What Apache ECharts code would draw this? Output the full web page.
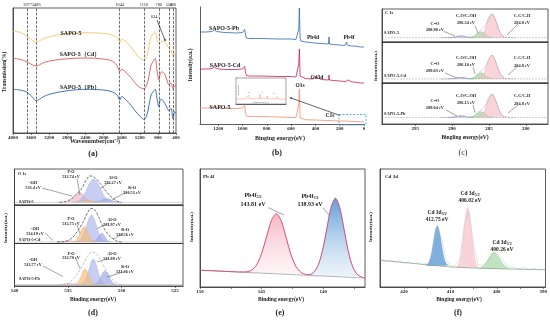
<!DOCTYPE html>
<html><head><meta charset="utf-8">
<script src="https://cdn.jsdelivr.net/npm/echarts@6/dist/echarts.min.js"></script>
<style>html,body{margin:0;padding:0;background:#fff}#c{width:550px;height:323px}</style>
</head><body><div id="c"></div>
<script>
// ---------- (a) FTIR ----------
const aWave=[4000,3850,3700,3600,3486,3350,3200,2800,2400,2000,1800,1700,1644,1600,1500,1400,1300,1200,1110,1050,1000,950,900,860,820,780,740,700,650,600,556,510,466,430,400];
const aS5=[102,100.7,97,93.7,91,93.7,96.3,99.3,100.3,99.7,98,95.7,90.3,93.7,91.3,86.3,80.3,74.7,73,76.3,86.3,96.3,99.5,101.5,93.7,89.7,91,91.7,90.7,88,84.7,83,76.3,79.7,83];
const aCd=[74.7,73.7,71.3,68.7,67,69.7,72,74.3,75,74,71.7,67,61.3,63.7,60.3,55.7,49.7,45.7,44.3,47,56.3,68,72,74.7,63,53,60.3,61,59,53,48,50.3,44.3,47,48];
const aPb=[43.7,43,41,37.3,32.3,35.7,38.7,42.3,43.7,43,41,38,33,36.3,33,28,22,17,13.7,17,27,38,41.5,43.7,34.7,26.3,33.7,33,29.7,25.7,22.3,24.7,14.3,21.3,19.7];
const aMarks=[3677,3486,1644,1110,780,556,466];
const aTicks=[4000,3600,3200,2800,2400,2000,1600,1200,800,400];
// ---------- (b) XPS survey ----------
const bPb=[[1350,92],[1300,92],[1250,92.5],[1232,94],[1215,92.5],[1150,91.5],[1050,91],[1000,91.5],[990,93],[982,94.5],[976,90],[968,86],[950,85.5],[850,85.5],[700,85],[600,85],[560,84.5],[545,86],[537,95],[532,116],[529,100],[526,86],[520,83],[480,82],[440,81.5],[432,83],[424,82],[410,81],[350,80.5],[292,80],[288,87],[284,80],[250,79.5],[200,79],[196,81],[192,79],[160,78.5],[146,79],[142,82],[139,79],[137,81],[133,78.5],[105,78],[80,78],[76,79],[72,77.5],[30,77],[0,77]];
const bCd=[[1350,55],[1300,55],[1250,55.5],[1232,57],[1215,55.5],[1150,54.5],[1050,54.5],[1000,55],[990,56.5],[982,57.5],[976,52],[968,48.5],[950,48],[850,48],[700,47.5],[600,47.5],[560,47],[545,49],[537,60],[532,75],[529,60],[526,48],[520,46],[480,45.5],[420,45],[412,47.5],[405,48],[400,46],[350,44.5],[292,44],[288,49],[284,44],[250,43.5],[200,43],[196,45],[192,43],[150,42.5],[142,44],[138,42.5],[133,44],[128,42.2],[100,42],[80,42],[76,43],[72,41.5],[30,41],[0,41]];
const bS5=[[1350,16],[1300,16],[1250,16.5],[1232,17.5],[1215,16.5],[1150,15.5],[1050,15.5],[1000,16],[990,17],[982,18.5],[976,12],[968,8],[950,7.5],[850,7.5],[700,7],[600,6.5],[560,6.5],[545,8],[537,20],[532,35],[529,20],[526,6],[520,4.5],[480,4.2],[400,4],[300,3.5],[292,3.5],[288,5.5],[284,3.5],[200,3],[196,4],[192,3],[150,3],[140,4],[136,3],[100,2.5],[0,2]];
const bInset=[[200,1.9],[160,2],[153,2.1],[150,3.5],[147,2.1],[120,2],[106,2.1],[104,3.7],[102,2.1],[92,2.2],[90,2.8],[88,2.1],[77,2.1],[75,3.1],[73,2],[40,2],[37,2.8],[34,1.9],[0,1.8]];
const bTicks=[1200,1000,800,600,400,200,0];
// ---------- (c) C1s ----------
const cPinkX=[286.55,286.2,285.9,285.55,285.25,284.9,284.6,284.3,283.95,283.65,283.3,283.0,282.65];
const cGreenX=[287.75,287.45,287.2,286.9,286.65,286.4,286.1,285.8,285.55,285.3,285.0,284.75,284.45];
const cBlueX=[290.6,290.3,290.0,289.7,289.4,289.1,288.8,288.5,288.2,287.9,287.6,287.3,287.0];
const cPink1=[13.8,16.2,22.7,36.4,56.7,76.5,85,76.5,56.7,36.4,22.7,16.2,13.8];
const cPink2=[10.6,12.6,17.8,28.9,45.2,61.2,68,61.2,45.2,28.9,17.8,12.6,10.6];
const cPink3=[16.6,18.5,23.7,34.5,50.6,66.3,73,66.3,50.6,34.5,23.7,18.5,16.6];
const cGreen1=[13.2,13.8,15.4,18.9,23.9,28.9,31,28.9,23.9,18.9,15.4,13.8,13.2];
const cGreen2=[10.2,10.7,12.0,14.9,19.1,23.2,25,23.2,19.1,14.9,12.0,10.7,10.2];
const cGreen3=[16.2,16.6,17.9,20.6,24.5,28.3,30,28.3,24.5,20.6,17.9,16.6,16.2];
const cBlue1=[13.1,13.3,13.8,14.95,16.6,18.3,19,18.3,16.6,14.95,13.8,13.3,13.1];
const cBlue2=[10.0,10.2,10.5,11.3,12.4,13.5,14,13.5,12.4,11.3,10.5,10.2,10.0];
const cBlue3=[16.0,16.2,16.5,17.3,18.4,19.5,20,19.5,18.4,17.3,16.5,16.2,16.0];
const cEnvX=[291.5,290,289.4,288.8,288.2,287.6,287.2,286.9,286.4,286.1,285.8,285.55,285.25,284.9,284.6,284.3,283.95,283.65,283.3,282.65,281.5];
const cEnv1=[13,13.8,16.6,19,16.6,14.3,15.6,18.9,30.5,36,41.9,48.5,62.1,78.2,85.5,76.5,56.7,36.4,22.7,13.8,13];
const cEnv2=[10,10.5,12.4,14,12.4,10.4,12.2,14.9,24.5,29.1,33.6,38.8,49.7,62.6,68.4,61.2,45.2,28.9,17.8,10.6,10];
const cEnv3=[16,16.5,18.4,20,18.4,16.4,18.0,20.6,29.6,34,38.6,43.9,54.8,67.6,73.4,66.3,50.6,34.5,23.7,16.6,16];
const cBase=[13,10,16];
const cTicks=[295,290,285,280];
// ---------- (d) O1s ----------
const dOH1X=[535.4,535.15,534.9,534.65,534.4,534.15,533.9,533.65,533.4,533.15,532.9,532.65,532.4];
const dOH1=[7.8,8.7,11.1,16.1,23.6,30.9,34,30.9,23.6,16.1,11.1,8.7,7.8];
const dPO1X=[534.15,533.98,533.8,533.63,533.45,533.28,533.1,532.93,532.75,532.58,532.4,532.23,532.05];
const dPO1=[7.55,7.7,8.2,9.1,10.5,11.9,12.5,11.9,10.5,9.1,8.2,7.7,7.55];
const dAl1X=[534.4,534.1,533.8,533.5,533.2,532.9,532.6,532.3,532.0,531.7,531.4,531.1,530.8];
const dAl1=[8.2,10.3,16.2,28.5,46.7,64.4,72,64.4,46.7,28.5,16.2,10.3,8.2];
const dSi1X=[532.75,532.53,532.3,532.08,531.85,531.63,531.4,531.18,530.95,530.73,530.5,530.28,530.05];
const dSi1=[7.6,8.0,8.9,10.9,13.9,16.8,18,16.8,13.9,10.9,8.9,8.0,7.6];
const dEnv1=[[535.8,7.5],[535.3,9.2],[534.8,15],[534.35,25.8],[533.7,46.4],[533.3,69.4],[532.94,81],[532.5,76],[532.0,60.3],[531.54,41.7],[531.07,25.8],[530.45,11.1],[529.98,7.5]];
const dOH2X=[536.1,535.9,535.7,535.5,535.3,535.1,534.9,534.7,534.5,534.3,534.1,533.9,533.7];
const dOH2=[4.03,4.13,4.4,5.0,5.8,6.6,7,6.6,5.8,5.0,4.4,4.13,4.03];
const dPO2X=[534.55,534.38,534.2,534.03,533.85,533.68,533.5,533.33,533.15,532.98,532.8,532.63,532.45];
const dPO2=[4.4,5.7,9.3,16.9,28.0,38.9,43.6,38.9,28.0,16.9,9.3,5.7,4.4];
const dAl2X=[534.15,533.93,533.7,533.48,533.25,533.03,532.8,532.58,532.35,532.13,531.9,531.68,531.45];
const dAl2=[4.8,7.1,13.5,26.8,46.5,65.7,74,65.7,46.5,26.8,13.5,7.1,4.8];
const dSi2X=[532.75,532.6,532.45,532.3,532.15,532.0,531.85,531.7,531.55,531.4,531.25,531.1,530.95];
const dSi2=[4.25,5.0,7.0,11.3,17.7,23.8,26.5,23.8,17.7,11.3,7.0,5.0,4.25];
const dEnv2=[[536,4],[535.4,4.5],[534.65,13.5],[534.04,35],[533.57,56.6],[533.2,78.4],[532.85,91.4],[532.48,87],[532.07,65.5],[531.64,39.5],[531.14,20.3],[530.45,6.5],[530,4]];
const dOH3X=[536.0,535.8,535.6,535.4,535.2,535.0,534.8,534.6,534.4,534.2,534.0,533.8,533.6];
const dOH3=[3.53,3.61,3.84,4.31,5.02,5.71,6.0,5.71,5.02,4.31,3.84,3.61,3.53];
const dPO3X=[534.39,534.23,534.06,533.9,533.73,533.57,533.4,533.24,533.07,532.91,532.74,532.58,532.41];
const dPO3=[3.9,5.1,8.4,15.4,25.7,35.7,40,35.7,25.7,15.4,8.4,5.1,3.9];
const dAl3X=[533.78,533.59,533.4,533.21,533.02,532.83,532.64,532.45,532.26,532.07,531.88,531.69,531.5];
const dAl3=[4.2,6.1,11.6,23.0,39.9,56.4,63.5,56.4,39.9,23.0,11.6,6.1,4.2];
const dSi3X=[532.65,532.47,532.28,532.1,531.91,531.73,531.54,531.36,531.17,530.99,530.8,530.62,530.43];
const dSi3=[3.85,4.9,7.8,13.8,22.8,31.5,35.3,31.5,22.8,13.8,7.8,4.9,3.85];
const dEnv3=[[535.5,3.5],[534.97,6.4],[534.19,25.9],[533.63,49.4],[533.2,68.9],[532.8,79.3],[532.38,76.9],[531.94,61.2],[531.38,33.6],[530.77,14.1],[530.14,4],[529.8,3.5]];
const dBase=[7.5,4,3.5];
const dTicks=[540,535,530,525];
// ---------- (e) Pb 4f ----------
const ePinkX=[146.2,145.8,145.4,145.0,144.6,144.2,143.8,143.4,143.0,142.6,142.2,141.8,141.4];
const ePink=[12.9,14.3,18.8,28.3,42.5,56.3,62.1,55.9,41.7,27.1,17.3,12.4,10.6];
const eBlueX=[141.1,140.75,140.4,140.05,139.7,139.35,139.0,138.65,138.3,137.95,137.6,137.25,136.9];
const eBlue=[10.5,12.6,18.5,30.9,49.5,67.6,75.2,67.2,48.8,29.9,17.1,10.9,8.5];
const eBase=[[150,14.2],[145,11.75],[140,9.3],[136.6,7.6]];
const eLead=[[150,14.2],[149,13.8],[148,13.3],[147,12.8],[146.6,12.7]];
const eTail=[[136.6,7.7]];
const eTicks=[150,145,140];
const eMinor=[150,147.5,145,142.5,140,137.5];
// ---------- (f) Cd 3d ----------
const fBlueX=[415.25,414.85,414.45,414.05,413.65,413.25,412.85,412.45,412.05,411.65,411.25,410.85,410.45];
const fBlue=[18.4,19.5,22.6,29.1,38.6,48.0,52,48.0,38.6,29.1,22.6,19.5,18.4];
const fPinkX=[408.7,408.3,407.9,407.5,407.1,406.7,406.3,405.9,405.5,405.1,404.7,404.3,403.9];
const fPink=[17.0,18.6,23.3,33.0,47.4,61.4,67.4,61.4,47.4,33.0,23.3,18.6,17.0];
const fGreenX=[404.35,403.73,403.1,402.48,401.85,401.23,400.6,399.98,399.35,398.73,398.1,397.48,396.85];
const fGreen=[15.65,16.1,17.4,20.05,24.0,27.85,29.5,27.85,24.0,20.05,17.4,16.1,15.65];
const fBase=[[425.2,22.6],[420,20.8],[415,18.8],[410,17.0],[405,16.1],[400,15.5],[395,15.0],[389.5,14.6]];
const fRaw=[[425,23.5],[424,21.5],[423,23],[422,21],[421,22.5],[420,20],[419,21.5],[418,19.5],[417,20.5],[416,19],[415,20.5],[414,25],[413,50],[412,42],[411,24],[410,17.5],[409,18],[408,24],[407,52],[406,64],[405,36],[404,19],[403,18.5],[402,21],[401,28],[400,30],[399,25],[398,19],[397,17],[396,16],[395,15.5],[394,16.5],[393,14.5],[392,16],[391,14.5],[390,16]];
const fTicks=[420,410,400,390];
const fMinor=[420,415,410,405,400,395,390];

// ---------- helpers ----------
const FF='"Liberation Serif", "Times New Roman", serif';
const zip=(xs,ys)=>xs.map((x,i)=>[x,ys[i]]);
function gridBox(l,t,w,h,show){return {left:l,top:t,width:w,height:h,show:show!==false,borderColor:'#333',borderWidth:0.8,backgroundColor:'transparent',containLabel:false,outerBoundsMode:'none'};}
function xAx(g,min,max,o){o=o||{};return {type:'value',gridIndex:g,min:min,max:max,inverse:true,splitLine:{show:false},
  axisLine:{show:true,onZero:false,lineStyle:{color:'#333',width:0.8}},
  axisTick:{show:!!o.ticks,customValues:o.ticks,length:2,lineStyle:{color:'#333',width:0.6}},
  axisLabel:{show:!!o.labels,customValues:o.labels,formatter:v=>String(v),fontSize:5,fontFamily:FF,fontWeight:'bold',color:'#222',margin:2,hideOverlap:false}};}
function yAx(g,min,max,show){return {type:'value',gridIndex:g,min:min,max:max,splitLine:{show:false},
  axisLine:{show:show!==false,onZero:false,lineStyle:{color:'#333',width:0.8}},axisTick:{show:false},axisLabel:{show:false}};}
function ln(i,data,color,o){o=o||{};const s={type:'line',xAxisIndex:i,yAxisIndex:i,data:data,showSymbol:false,symbol:'none',
  smooth:(o.smooth===undefined?0.3:o.smooth),silent:true,z:o.z||2,lineStyle:{color:color,width:(o.w===undefined?0.8:o.w),type:o.dash||'solid',opacity:o.op||1}};
  if(o.fill){s.areaStyle={color:o.fill,origin:(o.origin===undefined?'start':o.origin),opacity:1};}
  if(o.markLine)s.markLine=o.markLine; return s;}
function T(x,y,text,size,o){o=o||{};return {type:'text',x:x,y:y,rotation:o.rot||0,silent:true,z:100,
  style:{text:text,fontFamily:FF,fontSize:size,fontWeight:o.w||'bold',fill:o.c||'#222',align:o.a||'center',verticalAlign:o.v||'middle',rich:o.rich}};}
function L(x1,y1,x2,y2,o){o=o||{};return {type:'line',silent:true,z:99,shape:{x1:x1,y1:y1,x2:x2,y2:y2},style:{stroke:o.c||'#666',lineWidth:o.w||0.6,lineDash:o.dash||null}};}
function arrow(x1,y1,x2,y2,c){const a=Math.atan2(y2-y1,x2-x1),s=2.4,w=1.2;const bx=x2-s*Math.cos(a),by=y2-s*Math.sin(a);
  return [L(x1,y1,bx,by,{c:c,w:0.7}),{type:'polygon',silent:true,z:99,shape:{points:[[x2,y2],[bx+w*Math.sin(a),by-w*Math.cos(a)],[bx-w*Math.sin(a),by+w*Math.cos(a)]]},style:{fill:c}}];}
const R90=Math.PI/2;
const subRich={n:{fontFamily:FF,fontSize:6,fontWeight:'bold',fill:'#222',lineHeight:7},s:{fontFamily:FF,fontSize:4,fontWeight:'bold',fill:'#222',verticalAlign:'bottom',lineHeight:5}};
const subRichF={n:{fontFamily:FF,fontSize:5.5,fontWeight:'bold',fill:'#222',lineHeight:7},s:{fontFamily:FF,fontSize:3.8,fontWeight:'bold',fill:'#222',verticalAlign:'bottom',lineHeight:5}};

const cPinkF='rgba(246,190,200,0.65)',cPinkL='#eba5b2',cGreenF='rgba(150,210,150,0.65)',cGreenL='#86c686',cBlueF='rgba(170,178,230,0.65)',cBlueL='#9aa2dd',cOrF='rgba(250,190,120,0.7)',cOrL='#f0b070';

const grids=[
 gridBox(13,8,163,125),
 gridBox(200,7,164,117,false),
 {left:236,top:78,width:50,height:26,show:true,borderColor:'#666',borderWidth:0.6,backgroundColor:'#fff',z:5,outerBoundsMode:'none'},
 gridBox(382,9,166,33),gridBox(382,42,166,41),gridBox(382,83,166,41),
 gridBox(14.5,169,168.5,36),gridBox(14.5,205,168.5,38.5),gridBox(14.5,243.5,168.5,42.5),
 gridBox(200,169,165,118),
 gridBox(380,169,165.5,118)
];
const xAxes=[
 xAx(0,400,4000,{ticks:aTicks,labels:aTicks}),
 xAx(1,0,1350,{ticks:bTicks,labels:bTicks}),
 xAx(2,0,200,{}),
 xAx(3,277,299.5,{}),xAx(4,277,299.5,{}),xAx(5,277,299.5,{ticks:cTicks,labels:cTicks}),
 xAx(6,524.25,540,{}),xAx(7,524.25,540,{}),xAx(8,524.25,540,{ticks:dTicks,labels:dTicks}),
 xAx(9,136.6,150,{ticks:eMinor,labels:eTicks}),
 xAx(10,389.5,425.2,{ticks:fMinor,labels:fTicks})
];
const yAxes=[yAx(0,0,125),yAx(1,0,117),yAx(2,0,10),yAx(3,0,100),yAx(4,0,100),yAx(5,0,100),yAx(6,0,100),yAx(7,0,100),yAx(8,0,100),yAx(9,0,100),yAx(10,0,100)];

const series=[];
series.push(ln(0,zip(aWave,aS5),'#f6c56b',{smooth:0.35,w:0.9,markLine:{symbol:['none','none'],silent:true,animation:false,
  lineStyle:{type:'dashed',color:'#333',width:0.7},
  label:{show:true,position:'end',distance:1,formatter:p=>String(p.value),fontSize:4.3,fontFamily:FF,color:'#222'},
  data:aMarks.map(v=>({xAxis:v}))}}));
series.push(ln(0,zip(aWave,aCd),'#dc5753',{smooth:0.35,w:0.9}));
series.push(ln(0,zip(aWave,aPb),'#2b68b1',{smooth:0.35,w:0.9}));
series.push(ln(1,bPb,'#2f64b4',{smooth:false,w:0.8}));
series.push(ln(1,bCd,'#c81e5a',{smooth:false,w:0.8}));
series.push(ln(1,bS5,'#f78a6c',{smooth:false,w:0.8}));
series.push(ln(2,bInset,'#f78a6c',{smooth:false,w:0.5,z:10}));
const cP=[cPink1,cPink2,cPink3],cG=[cGreen1,cGreen2,cGreen3],cB=[cBlue1,cBlue2,cBlue3],cE=[cEnv1,cEnv2,cEnv3];
for(let k=0;k<3;k++){const gi=3+k;
 series.push(ln(gi,[[299.5,cBase[k]],[277,cBase[k]]],'#999',{smooth:false,w:0.5,dash:'dashed'}));
 series.push(ln(gi,zip(cBlueX,cB[k]),cBlueL,{fill:cBlueF,origin:cBase[k],w:0.5}));
 series.push(ln(gi,zip(cGreenX,cG[k]),cGreenL,{fill:cGreenF,origin:cBase[k],w:0.5}));
 series.push(ln(gi,zip(cPinkX,cP[k]),cPinkL,{fill:cPinkF,origin:cBase[k],w:0.5}));
 series.push(ln(gi,zip(cEnvX,cE[k]),'#888',{w:0.5,dash:'dashed',z:3}));
}
const dSets=[[dOH1X,dOH1,dPO1X,dPO1,dAl1X,dAl1,dSi1X,dSi1,dEnv1],[dOH2X,dOH2,dPO2X,dPO2,dAl2X,dAl2,dSi2X,dSi2,dEnv2],[dOH3X,dOH3,dPO3X,dPO3,dAl3X,dAl3,dSi3X,dSi3,dEnv3]];
for(let k=0;k<3;k++){const gi=6+k,s=dSets[k],b=dBase[k];
 series.push(ln(gi,[[540,b],[524.25,b]],'#aaa',{smooth:false,w:0.5}));
 series.push(ln(gi,zip(s[0],s[1]),'#eeaab8',{fill:'rgba(244,185,198,0.7)',origin:b,w:0.5}));
 series.push(ln(gi,zip(s[4],s[5]),'#a8b0e4',{fill:'rgba(175,185,235,0.7)',origin:b,w:0.5}));
 series.push(ln(gi,zip(s[6],s[7]),'#a0a8e0',{fill:'rgba(165,175,230,0.75)',origin:b,w:0.5}));
 series.push(ln(gi,zip(s[2],s[3]),cOrL,{fill:cOrF,origin:b,w:0.5}));
 series.push(ln(gi,s[8],k===2?'#aaa':'#333',{w:0.7,dash:'dashed',z:3}));
}
series.push(ln(9,eBase,'#888',{smooth:false,w:0.6}));
series.push(ln(9,zip(ePinkX,ePink),'#f2b8c4',{fill:{type:'linear',x:0,y:0,x2:0,y2:1,colorStops:[{offset:0,color:'rgba(240,160,175,0.75)'},{offset:1,color:'rgba(252,228,233,0.4)'}]},origin:11.2,w:0.5}));
series.push(ln(9,zip(eBlueX,eBlue),'#7fb0df',{fill:{type:'linear',x:0,y:0,x2:0,y2:1,colorStops:[{offset:0,color:'rgba(70,140,210,0.85)'},{offset:1,color:'rgba(215,232,246,0.45)'}]},origin:8.8,w:0.5}));
series.push(ln(9,eLead.concat(zip(ePinkX,ePink),zip(eBlueX,eBlue),eTail),'#d8436f',{w:0.9,z:3}));
series.push(ln(10,fRaw,'#b8b8b8',{smooth:false,w:0.4}));
series.push(ln(10,fBase,'#7f9f7f',{smooth:false,w:0.7}));
series.push(ln(10,zip(fBlueX,fBlue),'#6aa3d8',{fill:'rgba(95,155,215,0.8)',origin:18,w:0.5}));
series.push(ln(10,zip(fPinkX,fPink),'#f3bcc7',{fill:'rgba(246,200,208,0.8)',origin:16.4,w:0.5}));
series.push(ln(10,zip(fGreenX,fGreen),'#a8d6a8',{fill:'rgba(178,220,178,0.8)',origin:15.5,w:0.5}));

const G=[];
G.push(T(5,72,'Transmission(%)',5.5,{rot:R90}));
G.push(T(95,141.5,'Wavenumber(cm⁻¹)',6));
G.push(T(93,154,'(a)',8));
G.push(T(71,33,'SAPO-5',6));
G.push(T(80,54.5,'SAPO-5（Cd）',6));
G.push(T(80,87.5,'SAPO-5（Pb）',6));
G.push(T(154,17,'634',4.5,{w:'normal'}));
G.push(...arrow(157,20,165.5,41.5,'#222'));
G.push(T(191,65,'Intensity(a.u.)',5.5,{rot:R90}));
G.push(T(280,138,'Binging energy(eV)',6));
G.push(T(277,153,'(b)',8));
G.push(T(224,28,'SAPO-5-Pb',6));
G.push(T(225,65,'SAPO-5-Cd',6));
G.push(T(220,107,'SAPO-5',6));
G.push(T(313,38,'Pb4d',5.5));
G.push(T(349,38,'Pb4f',5.5));
G.push(T(317,77.5,'Cd3d',5.5));
G.push(T(300,86,'O1s',5.5));
G.push(T(330,116,'C1s',5.5));
G.push(T(261,102.3,'Binging energy(eV)',2,{w:'normal',c:'#555'}));
G.push(T(238.5,90,'Intensity(a.u.)',1.8,{w:'normal',c:'#555',rot:R90}));
G.push(T(249,93,'Pb',1.8,{w:'normal',c:'#555'}),T(262,93,'O',1.8,{w:'normal',c:'#555'}),T(274,94,'Si',1.8,{w:'normal',c:'#555'}));
G.push(...arrow(340,115.5,289.5,97.5,'#222'));
G.push({type:'rect',silent:true,z:99,shape:{x:339,y:114.5,width:27,height:10.5},style:{fill:'none',stroke:'#3fb0d8',lineWidth:0.9,lineDash:[2,1.5]}});
G.push(T(376,66,'Intensity(a.u.)',5,{rot:R90}));
G.push(T(465,138,'Bingling energy(eV)',5.5));
G.push(T(463,153,'(c)',8,{w:'normal'}));
G.push(T(385,13,'C 1s',4.5,{a:'left'}));
G.push(T(384,33,'SAPO-5',4.3,{a:'left'}),T(384,76,'SAPO-5-Cd',4.3,{a:'left'}),T(384,113.5,'SAPO-5-Pb',4.3,{a:'left'}));
const cLab=[[24,30,'288.90 eV',16,23,'286.34 eV',16,23],[64,71,'289.03 eV',57.5,65,'286.10 eV',58,65.5],[101,107.5,'289.04 eV',96,103,'286.15 eV',96,103.5]];
cLab.forEach(r=>{G.push(T(435,r[0],'C=O',4.3),T(435,r[1],r[2],4.3),T(466,r[3],'C-O/C-OH',4.3),T(466,r[4],r[5],4.3),T(522,r[6],'C-C/C-H',4.3),T(522,r[7],'284.8 eV',4.3));});
G.push(L(444,31.5,455,36),L(475,26,478,33),L(518,24,507,35));
G.push(L(445,73,457,78),L(473,67,475,74),L(518,66,508,75));
G.push(L(446,110,457,116),L(473,105,475,112.5),L(518,105,508,113));
G.push(T(6,228,'Intensity(a.u.)',5,{rot:R90}));
G.push(T(93,299.5,'Binding energy(eV)',5.5));
G.push(T(93,313,'(d)',8));
G.push(T(18,174,'O 1s',4.3,{a:'left'}));
G.push(T(19,202,'SAPO-5',4.2,{a:'left'}),T(19,239.5,'SAPO-5-Cd',4.2,{a:'left'}),T(19,278.5,'SAPO-5-Pb',4.2,{a:'left'}));
const dLab=[
 [[71,172,'P-O'],[71,176.5,'532.74 eV'],[33,183,'-OH'],[33,188,'533.4 eV'],[113,178,'Al-O'],[113,183,'532.27 eV'],[132,188,'Si-O'],[132,193,'530.53 eV']],
 [[71,219,'P-O'],[71,223.5,'532.75 eV'],[35,228.5,'-OH'],[35,233.5,'534.19 eV'],[112,220,'Al-O'],[112,224.5,'531.97 eV'],[125,229.5,'Si-O'],[125,234.5,'530.56 eV']],
 [[71,253.5,'P-O'],[71,258,'532.70 eV'],[33,260,'-OH'],[33,265,'533.77 eV'],[112,254,'Al-O'],[112,258.5,'531.89 eV'],[125,267,'Si-O'],[125,272,'531.06 eV']]];
dLab.forEach(s=>s.forEach(t=>G.push(T(t[0],t[1],t[2],4.2))));
G.push(L(77,178.5,80,195),L(42,188,72,196),L(110,182,100,188.5),L(127,192,112,199.5));
G.push(L(77,225,80,233.5),L(45,233,53,240.5),L(108,223.5,97,228.5),L(123,233.5,113,239.5));
G.push(L(76,258.5,80,268.5),L(43,266,63,276.5),L(108,258.5,97,262),L(123,272,107,277));
G.push(T(192,227,'Intensity(a.u.)',5,{rot:R90}));
G.push(T(281,300,'Binding energy(eV)',5.5));
G.push(T(280,313,'(e)',8));
G.push(T(203,177,'Pb 4f',5,{a:'left'}));
G.push(T(253,195.5,'{n|Pb4f}{s|5/2}',6,{rich:subRich}),T(253,204.5,'143.81 eV',6));
G.push(T(310,196.5,'{n|Pb4f}{s|7/2}',6,{rich:subRich}),T(310,204.5,'138.93 eV',6));
G.push(L(268,207.5,284,215),L(323,208,330,216));
G.push(T(371,227,'Intensity(a.u.)',5,{rot:R90}));
G.push(T(459,300,'Binging energy(eV)',5.5));
G.push(T(458,313,'(f)',8));
G.push(T(385,177,'Cd 3d',5,{a:'left'}));
G.push(T(437,212.5,'{n|Cd 3d}{s|3/2}',5.5,{rich:subRichF}),T(437,219.5,'412.75 eV',5.5));
G.push(T(470,194,'{n|Cd 3d}{s|5/2}',5.5,{rich:subRichF}),T(470,201,'406.02 eV',5.5));
G.push(T(502,242.5,'{n|Cd 3d}{s|5/2}',5.5,{rich:subRichF}),T(502,249.5,'400.26 eV',5.5));

const chart=echarts.init(document.getElementById('c'),null,{renderer:'canvas'});
chart.setOption({animation:false,backgroundColor:'#fff',grid:grids,xAxis:xAxes,yAxis:yAxes,series:series,graphic:{elements:G}});
</script></body></html>
